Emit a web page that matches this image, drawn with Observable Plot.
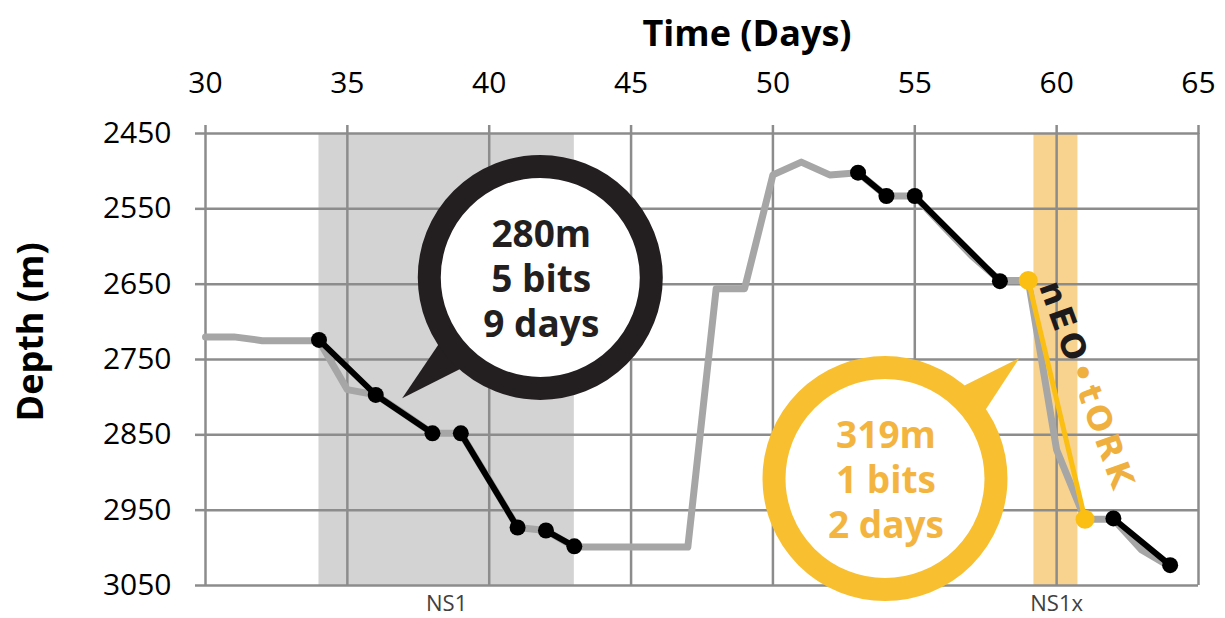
<!DOCTYPE html>
<html>
<head>
<meta charset="utf-8">
<script src="https://cdn.jsdelivr.net/npm/d3@7"></script>
<script src="https://cdn.jsdelivr.net/npm/@observablehq/plot@0.6"></script>
<style>
  html, body { margin: 0; padding: 0; background: #fff; }
  #chart svg g[aria-label="x-axis tick"] path,
  #chart svg g[aria-label="y-axis tick"] path { stroke: #8c8c8c; stroke-width: 2.5; stroke-opacity: 1; }
</style>
</head>
<body>
<div id="chart"></div>
<script>
// ---- data ----
const days = [30,31,32,33,34,35,36,37,38,39,40,41,42,43,44,45,46,47,48,49,50,51,52,53,54,55,56,57,58,59,60,61,62,63,64];
const grayDepth = [2720,2720,2725,2725,2725,2790,2797,2822,2848,2848,2910,2973,2977,2999,2999,2999,2999,2999,2656,2656,2505,2488,2505,2502,2533,2533,2573,2612,2645,2645,2870,2962,2962,3003,3025];

const blackDays  = [34,36,38,39,41,42,43,53,54,55,58,62,64];
const blackDepth = [2724,2797,2848,2848,2973,2977,2998,2502,2533,2533,2646,2961,3023];
const blackRun   = ["a","a","a","b","b","c","c","d","d","e","e","f","f"];

const yellowDays  = [59,61];
const yellowDepth = [2645,2962];

const regionNames = ["NS1","NS1x"];
const regionStart = [34,59.2];
const regionEnd   = [43,60.75];
const regionLabelX = [38.5,60];

const xTicks = [30,35,40,45,50,55,60,65];
const yTicks = [2450,2550,2650,2750,2850,2950,3050];

const calloutNames = ["NS1","NS1x"];
const calloutX = [41.8,53.95];
const calloutY = [2641,2908];
const calloutTipX = [36.95,58.7];
const calloutTipY = [2802,2749];
const calloutText = ["280m\n5 bits\n9 days","319m\n1 bits\n2 days"];

const logoX = [61.12];
const logoY = [2786];

// ---- build tables ----
const gray = days.map((d,i) => ({day: d, depth: grayDepth[i]}));
const black = blackDays.map((d,i) => ({day: d, depth: blackDepth[i], run: blackRun[i]}));
const yellow = yellowDays.map((d,i) => ({day: d, depth: yellowDepth[i]}));
const regions = regionNames.map((n,i) => ({name: n, start: regionStart[i], end: regionEnd[i], lx: regionLabelX[i]}));
const callouts = calloutNames.map((n,i) => ({name: n, x: calloutX[i], y: calloutY[i], tx: calloutTipX[i], ty: calloutTipY[i], text: calloutText[i]}));

const ringColor = {"NS1": "#231f20", "NS1x": "#f8bf30"};
const textColor = {"NS1": "#231f20", "NS1x": "#f4b540"};

const chart = Plot.plot({
  width: 1225,
  height: 618,
  marginLeft: 205,
  marginRight: 27,
  marginTop: 133,
  marginBottom: 33,
  style: {fontFamily: "'Open Sans', sans-serif", fontSize: "30px", background: "#fff", color: "#000", overflow: "visible"},
  x: {domain: [30,65]},
  y: {domain: [2450,3050], reverse: true},
  color: {domain: regionNames, range: ["#d3d3d3", "#f8d38f"]},
  marks: [
    Plot.rect(regions, {x1: "start", x2: "end", fill: "name"}),
    Plot.gridX({ticks: xTicks, stroke: "#8c8c8c", strokeOpacity: 1, strokeWidth: 2.5}),
    Plot.gridY({ticks: yTicks, stroke: "#8c8c8c", strokeOpacity: 1, strokeWidth: 2.5}),
    Plot.axisX({anchor: "top", ticks: xTicks, tickSize: 9, tickPadding: 32, fontSize: 30, label: null}),
    Plot.axisY({anchor: "left", ticks: yTicks, tickSize: 10, tickPadding: 24, fontSize: 30, label: null, tickFormat: d => String(d)}),
    Plot.text(["Time (Days)"], {frameAnchor: "top", dx: 45, dy: -113, fontSize: 36, fontWeight: "bold", fill: "#000"}),
    Plot.text(["Depth (m)"], {frameAnchor: "left", dx: -174, dy: 62, rotate: -90, fontSize: 36, fontWeight: "bold", fill: "#000"}),
    Plot.text(regions, {x: "lx", text: "name", frameAnchor: "bottom", dy: 25, fontSize: 22, fill: "#404040"}),
    Plot.line(gray, {x: "day", y: "depth", stroke: "#a6a6a6", strokeWidth: 7, strokeLinejoin: "round"}),
    Plot.line(black, {x: "day", y: "depth", z: "run", stroke: "#000", strokeWidth: 6}),
    Plot.dot(black, {x: "day", y: "depth", r: 8, fill: "#000"}),
    Plot.line(yellow, {x: "day", y: "depth", stroke: "#fbbf14", strokeWidth: 5}),
    Plot.dot(yellow, {x: "day", y: "depth", r: 9.5, fill: "#fbbf14"}),
    Plot.dot(callouts, {x: "x", y: "y", r: 111, fill: "#fff", stroke: d => ringColor[d.name], strokeWidth: 23}),
    Plot.text(callouts, {x: "x", y: "y", text: "text", fontSize: 37, fontWeight: "bold", lineHeight: 1.22, fill: d => textColor[d.name], dx: 1})
  ]
});

document.getElementById("chart").appendChild(chart);

// callout tails, positioned through the plot's own scales, placed under the rings
const sx = chart.scale("x"), sy = chart.scale("y");
const svg = d3.select(chart);
const dotGroups = svg.selectAll('g[aria-label="dot"]').nodes();
const ring = dotGroups[dotGroups.length - 1];
const tails = svg.insert("g", () => ring).attr("aria-label", "callout tail");
callouts.forEach(c => {
  const cx = sx.apply(c.x), cy = sy.apply(c.y);
  const tx = sx.apply(c.tx), ty = sy.apply(c.ty);
  const a = Math.atan2(ty - cy, tx - cx);
  const h = 10 * Math.PI / 180, r = 111;
  const p = d3.path();
  p.moveTo(tx, ty);
  p.lineTo(cx + r * Math.cos(a + h), cy + r * Math.sin(a + h));
  p.lineTo(cx, cy);
  p.lineTo(cx + r * Math.cos(a - h), cy + r * Math.sin(a - h));
  p.closePath();
  tails.append("path").attr("d", p.toString()).attr("fill", ringColor[c.name]);
});

// neo·tork logo
const lx = sx.apply(logoX[0]), ly = sy.apply(logoY[0]);
const logo = svg.append("text")
  .attr("transform", `translate(${lx},${ly}) rotate(70)`)
  .attr("text-anchor", "middle")
  .attr("dominant-baseline", "central")
  .attr("font-family", "'DejaVu Sans', sans-serif")
  .attr("font-weight", "bold")
  .attr("font-size", 33)
  .attr("letter-spacing", 4);
logo.append("tspan").attr("fill", "#1d1a1b").text("nEO");
logo.append("tspan").attr("fill", "#f0b040").text("•tORK");
</script>
</body>
</html>
